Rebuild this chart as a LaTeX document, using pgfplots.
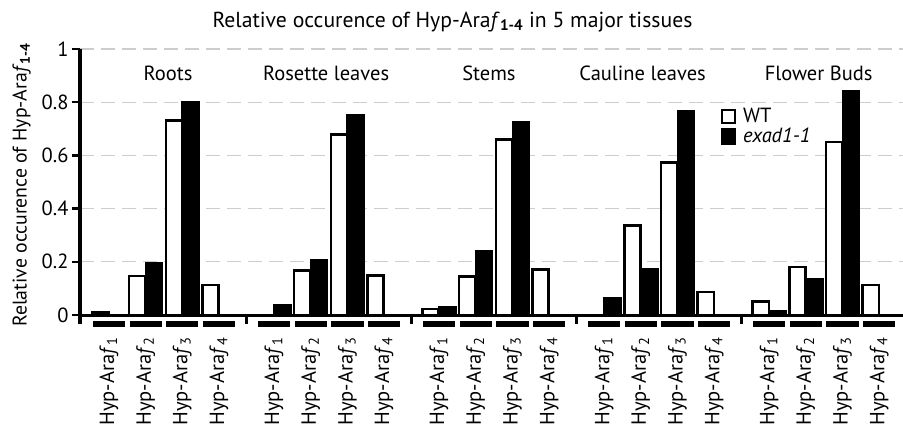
\documentclass[border=0pt]{standalone}
\usepackage{fontspec}
\setmainfont{PT Sans}
\usepackage{pgfplots}
\pgfplotsset{compat=1.18}
\definecolor{gridgray}{RGB}{205,205,205}
\newcommand\ff{\fontsize{20.5bp}{24bp}\selectfont}
\newcommand\hA[1]{Hyp-Ara\textit{f}\textsubscript{#1}}
\begin{document}
\begin{tikzpicture}
\begin{axis}[name=ax,
  scale only axis, width=823bp, height=266bp,
  xmin=-0.79, xmax=21.65, ymin=0, ymax=1,
  axis x line=bottom, axis y line=left,
  axis line style={-, line width=3bp, black},
  ytick={0,0.2,0.4,0.6,0.8,1},
  ymajorgrids, grid style={gridgray, line width=1.2bp, dash pattern=on 14bp off 7bp},
  tick align=outside, major tick length=8bp,
  ytick style={line width=2.5bp, black},
  /pgf/number format/assume math mode=true,
  yticklabel style={font=\ff},
  xtick={0,1,2,3,4.5,5.5,6.5,7.5,9,10,11,12,13.5,14.5,15.5,16.5,18,19,20,21},
  xtick style={draw=none},
  xticklabels={\hA1,\hA2,\hA3,\hA4,\hA1,\hA2,\hA3,\hA4,\hA1,\hA2,\hA3,\hA4,\hA1,\hA2,\hA3,\hA4,\hA1,\hA2,\hA3,\hA4},
  xticklabel style={rotate=90, anchor=east, font=\ff, xshift=2bp},
  xticklabel shift=13bp,
  clip=false,
  unbounded coords=jump,
  legend style={draw=none, fill=none, at={(axis cs:16.68,0.785)}, anchor=north west, font=\ff, row sep=0bp, inner sep=0pt},
  legend cell align=left,
]
\addplot[ybar, bar width=0.44, bar shift=-0.23, draw=black, fill=white, line width=2.5bp,
  legend image code/.code={\draw[black, fill=white, line width=2.5bp] (0bp,-6.5bp) rectangle (13bp,6.5bp);\path[draw=none, fill=none] (0bp,0bp) -- (19bp,0bp);}]
  coordinates {(0,0.010)(1,0.146)(2,0.731)(3,0.112)
               (5.5,0.168)(6.5,0.679)(7.5,0.149)
               (9,0.022)(10,0.145)(11,0.660)(12,0.171)
               (14.5,0.336)(15.5,0.574)(16.5,0.087)
               (18,0.050)(19,0.181)(20,0.650)(21,0.113)};
\addlegendentry{WT}
\addplot[ybar, bar width=0.44, bar shift=0.23, draw=black, fill=black, line width=2.5bp,
  legend image code/.code={\fill[black] (0.5bp,-7bp) rectangle (13bp,7bp);\path[draw=none, fill=none] (0bp,0bp) -- (19bp,0bp);}]
  coordinates {(1,0.194)(2,0.798)
               (4.5,0.036)(5.5,0.205)(6.5,0.750)
               (9,0.031)(10,0.239)(11,0.726)
               (13.5,0.062)(14.5,0.171)(15.5,0.767)
               (18,0.015)(19,0.136)(20,0.842)};
\addlegendentry{\textit{exad1-1}}
% category bars under the axis
\addplot[sharp plot, black, line width=6bp, forget plot] coordinates {
  (-0.44,-0.034)(0.44,-0.034)(0.5,nan)(0.56,-0.034)(1.44,-0.034)(1.5,nan)(1.56,-0.034)(2.44,-0.034)(2.5,nan)(2.56,-0.034)(3.44,-0.034)(3.5,nan)
  (4.06,-0.034)(4.94,-0.034)(5,nan)(5.06,-0.034)(5.94,-0.034)(6,nan)(6.06,-0.034)(6.94,-0.034)(7,nan)(7.06,-0.034)(7.94,-0.034)(8,nan)
  (8.56,-0.034)(9.44,-0.034)(9.5,nan)(9.56,-0.034)(10.44,-0.034)(10.5,nan)(10.56,-0.034)(11.44,-0.034)(11.5,nan)(11.56,-0.034)(12.44,-0.034)(12.5,nan)
  (13.06,-0.034)(13.94,-0.034)(14,nan)(14.06,-0.034)(14.94,-0.034)(15,nan)(15.06,-0.034)(15.94,-0.034)(16,nan)(16.06,-0.034)(16.94,-0.034)(17,nan)
  (17.56,-0.034)(18.44,-0.034)(18.5,nan)(18.56,-0.034)(19.44,-0.034)(19.5,nan)(19.56,-0.034)(20.44,-0.034)(20.5,nan)(20.56,-0.034)(21.44,-0.034)};
% group separator ticks
\addplot[sharp plot, black, line width=3bp, forget plot] coordinates {
  (-0.79,0)(-0.79,-0.034)(0,nan)(3.75,0)(3.75,-0.034)(4,nan)(8.25,0)(8.25,-0.034)(8.5,nan)(12.75,0)(12.75,-0.034)(13,nan)(17.25,0)(17.25,-0.034)};
\node[font=\ff, anchor=base] at (axis cs:1.61,0.883) {Roots};
\node[font=\ff, anchor=base] at (axis cs:5.92,0.883) {Rosette leaves};
\node[font=\ff, anchor=base] at (axis cs:10.36,0.883) {Stems};
\node[font=\ff, anchor=base] at (axis cs:14.55,0.883) {Cauline leaves};
\node[font=\ff, anchor=base] at (axis cs:19.35,0.883) {Flower Buds};
\end{axis}
\node[font=\fontsize{21.7bp}{25bp}\selectfont, anchor=base] at ([shift={(372.5bp,287.7bp)}]ax.south west) {Relative occurence of Hyp-Ara\textit{f}\textsubscript{\textbf{1-4}} in 5 major tissues};
\node[font=\fontsize{19.8bp}{23bp}\selectfont, rotate=90, anchor=south, inner sep=0pt] at ([shift={(-49bp,130bp)}]ax.south west) {Relative occurence of Hyp-Ara\textit{f}\textsubscript{\textbf{1-4}}};
\pgfresetboundingbox
\path[use as bounding box] ([shift={(-80bp,-111bp)}]ax.south west) rectangle ++(903bp,426bp);
\end{tikzpicture}
\end{document}
